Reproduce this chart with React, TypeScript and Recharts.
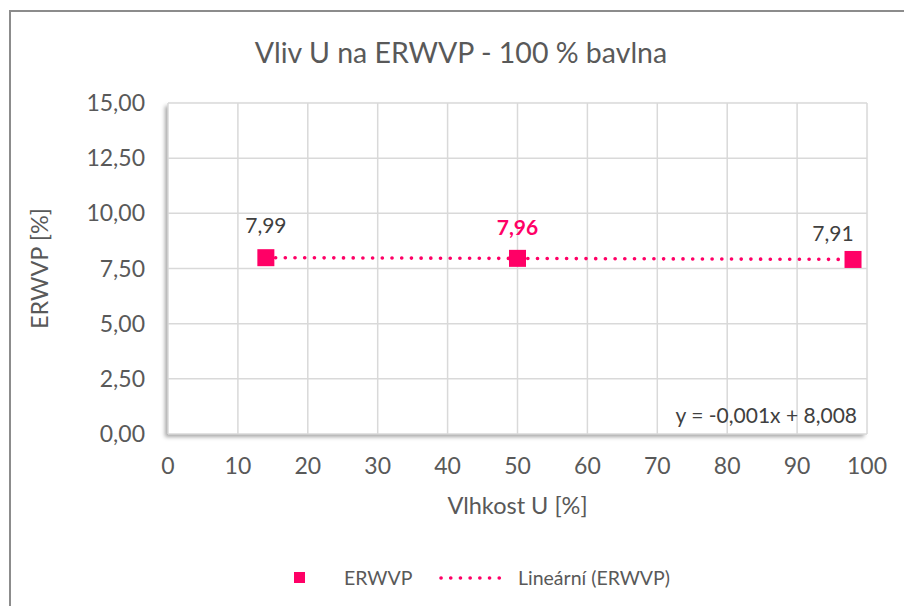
import React from 'react';
import { ComposedChart, Scatter, Line, XAxis, YAxis, CartesianGrid, LabelList, Label } from 'recharts';

const humidity = [14, 50, 98];
const erwvp = [7.99, 7.96, 7.91];
const xTicks = [0, 10, 20, 30, 40, 50, 60, 70, 80, 90, 100];
const yTicks = [0, 2.5, 5, 7.5, 10, 12.5, 15];

const PINK = '#ff0066';
const GRID = '#d9d9d9';
const TEXT = '#595959';
const FONT = 'Lato, "Open Sans", sans-serif';

const points = humidity.map((x, i) => ({ x, y: erwvp[i] }));

// least squares trendline over the data range, like Excel does
const n = humidity.length;
const mx = humidity.reduce((s, v) => s + v, 0) / n;
const my = erwvp.reduce((s, v) => s + v, 0) / n;
const slope =
  humidity.reduce((s, v, i) => s + (v - mx) * (erwvp[i] - my), 0) /
  humidity.reduce((s, v) => s + (v - mx) * (v - mx), 0);
const intercept = my - slope * mx;
const trend = [humidity[0], humidity[n - 1]].map((x) => ({ x, y: intercept + slope * x }));

const fmt = (v: number) => v.toFixed(2).replace('.', ',');

const W = 904;
const H = 606;
const PLOT = { left: 168, top: 103, right: 867, bottom: 434 };

// label shifts relative to the marker centre
const labelShift = [
  { dx: 0, dy: -33 },
  { dx: 0, dy: -32 },
  { dx: -20, dy: -27 },
];

function PointLabel(props: any) {
  const { x, y, width, height, value, index } = props;
  const cx = x + width / 2;
  const cy = y + height / 2;
  const s = labelShift[index] || { dx: 0, dy: -30 };
  const bold = index === 1;
  return (
    <text
      x={cx + s.dx}
      y={cy + s.dy}
      textAnchor="middle"
      dominantBaseline="central"
      fontFamily={FONT}
      fontSize={21}
      fontWeight={bold ? 700 : 400}
      fill={bold ? PINK : '#404040'}
    >
      {fmt(value)}
    </text>
  );
}

function SquareMarker(props: any) {
  const { cx, cy } = props;
  return <rect x={cx - 8.5} y={cy - 8.5} width={17} height={17} fill={PINK} />;
}

function YTitle(props: any) {
  const vb = props.viewBox;
  const x = 39;
  const y = vb.y + vb.height / 2;
  return (
    <text
      x={x}
      y={y}
      transform={`rotate(-90, ${x}, ${y})`}
      textAnchor="middle"
      dominantBaseline="central"
      fontFamily={FONT}
      fontSize={23.5}
      fill={TEXT}
    >
      ERWVP [%]
    </text>
  );
}

export default function App() {
  return (
    <div style={{ position: 'fixed', left: 0, top: 0, width: W, height: H, background: '#fff', overflow: 'hidden', fontFamily: FONT }}>
      <div
        style={{
          position: 'absolute',
          left: 9,
          top: 10,
          right: -10,
          bottom: -10,
          borderLeft: '2px solid #8c8c8c',
          borderTop: '2px solid #8c8c8c',
        }}
      />
      <div
        style={{
          position: 'absolute',
          left: PLOT.left,
          top: PLOT.top,
          width: PLOT.right - PLOT.left,
          height: PLOT.bottom - PLOT.top,
          background: '#fff',
          boxShadow: '-3px 3px 4px rgba(0,0,0,0.35)',
        }}
      />
      <div
        style={{
          position: 'absolute',
          left: 0,
          width: 922,
          top: 35,
          textAlign: 'center',
          fontSize: 28.5,
          color: TEXT,
          lineHeight: '34px',
        }}
      >
        Vliv U na ERWVP - 100 % bavlna
      </div>
      <div style={{ position: 'absolute', left: 0, top: 0 }}>
        <ComposedChart
          width={W}
          height={H}
          margin={{ top: PLOT.top, right: W - PLOT.right, left: PLOT.left - 80, bottom: H - PLOT.bottom - 50 }}
        >
          <CartesianGrid stroke={GRID} strokeWidth={1.5} horizontalValues={yTicks} verticalValues={xTicks} />
          <XAxis
            type="number"
            dataKey="x"
            domain={[0, 100]}
            ticks={xTicks}
            height={50}
            axisLine={false}
            tickLine={false}
            tickSize={0}
            tickMargin={24}
            tick={{ fill: TEXT, fontSize: 23, fontFamily: FONT }}
            interval={0}
            allowDataOverflow
          >
            <Label value="Vlhkost U [%]" position="bottom" offset={13} fill={TEXT} fontSize={23.5} fontFamily={FONT} />
          </XAxis>
          <YAxis
            type="number"
            dataKey="y"
            domain={[0, 15]}
            ticks={yTicks}
            width={80}
            axisLine={false}
            tickLine={false}
            tickSize={0}
            tickMargin={23}
            tick={{ fill: TEXT, fontSize: 23, fontFamily: FONT }}
            tickFormatter={fmt}
            interval={0}
            allowDataOverflow
          >
            <Label content={<YTitle />} />
          </YAxis>
          <Line
            data={trend}
            dataKey="y"
            type="linear"
            stroke={PINK}
            strokeWidth={3.6}
            strokeDasharray="0.1 9.6"
            strokeLinecap="round"
            dot={false}
            activeDot={false}
            isAnimationActive={false}
            legendType="none"
          />
          <Scatter data={points} dataKey="y" shape={<SquareMarker />} isAnimationActive={false}>
            <LabelList dataKey="y" content={<PointLabel />} />
          </Scatter>
        </ComposedChart>
      </div>
      <div
        style={{
          position: 'absolute',
          right: W - 857,
          top: 402,
          fontSize: 21,
          color: '#404040',
          lineHeight: '26px',
          whiteSpace: 'nowrap',
        }}
      >
        y = -0,001x + 8,008
      </div>
      <div style={{ position: 'absolute', left: 0, top: 565, width: W, height: 26, fontSize: 19.5, color: TEXT }}>
        <div style={{ position: 'absolute', left: 294, top: 7, width: 11, height: 11, background: PINK }} />
        <div style={{ position: 'absolute', left: 344, top: 0, lineHeight: '26px' }}>ERWVP</div>
        <svg style={{ position: 'absolute', left: 438, top: 0 }} width={66} height={26}>
          <line x1={3} y1={13} x2={63} y2={13} stroke={PINK} strokeWidth={3.6} strokeDasharray="0.1 9.6" strokeLinecap="round" />
        </svg>
        <div style={{ position: 'absolute', left: 518, top: 0, lineHeight: '26px' }}>Lineární (ERWVP)</div>
      </div>
    </div>
  );
}
